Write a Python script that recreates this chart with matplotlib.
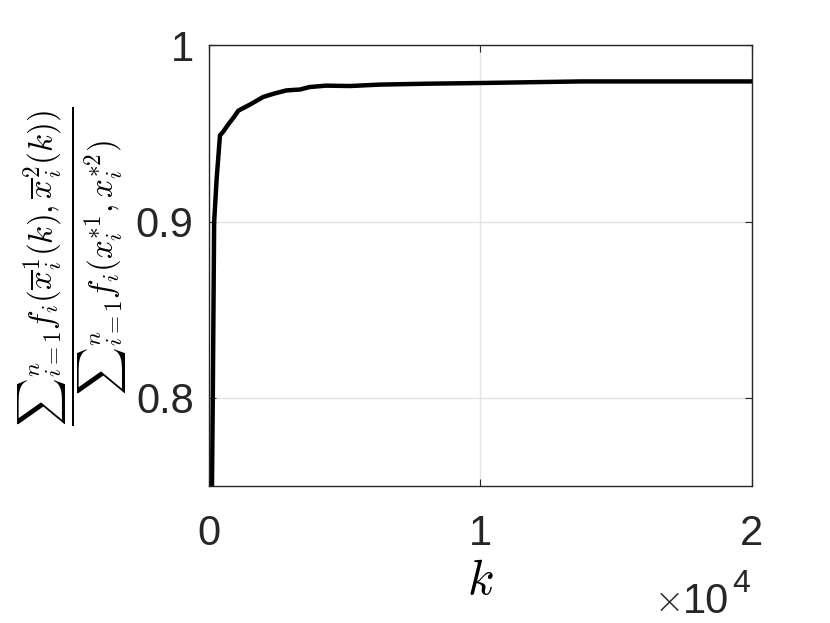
import matplotlib
matplotlib.use("Agg")
import matplotlib.pyplot as plt
import numpy as np

k_vals = [80, 110, 140, 190, 285, 405, 520, 700, 900, 1080, 1500, 2000, 2400,
          2850, 3350, 3700, 4300, 5200, 6300, 8000, 10000, 13700, 16000, 20000]
ratio_vals = [0.70, 0.75, 0.80, 0.90, 0.925, 0.949, 0.951, 0.955, 0.959, 0.963,
              0.9664, 0.9708, 0.9727, 0.9745, 0.975, 0.9764, 0.9772, 0.9770,
              0.9778, 0.9783, 0.9787, 0.9796, 0.9796, 0.9796]
x_ticks = [0, 10000, 20000]
x_tick_labels = ["0", "1", "2"]
y_ticks = [0.8, 0.9, 1.0]
y_tick_labels = ["0.8", "0.9", "1"]

plt.rcParams['mathtext.fontset'] = 'cm'
plt.rcParams['font.family'] = ['Liberation Sans', 'DejaVu Sans']

fig = plt.figure(figsize=(8.3, 6.23), dpi=100)
ax = fig.add_axes([0.2518, 0.2199, 0.6542, 0.7071])

ax.plot(k_vals, ratio_vals, color='black', lw=3.2, solid_joinstyle='round')
ax.set_xlim(0, 20000)
ax.set_ylim(0.75, 1.0)
ax.set_xticks(x_ticks)
ax.set_xticklabels(x_tick_labels)
ax.set_yticks(y_ticks)
ax.set_yticklabels(y_tick_labels)
ax.tick_params(direction='in', length=5, width=0.8, colors='#262626',
               labelsize=30, labelcolor='#262626')
ax.tick_params(axis='x', pad=20)
ax.tick_params(axis='y', pad=11)
ax.tick_params(top=True, right=True)
ax.grid(True, color='#e3e3e3', lw=1)
ax.set_axisbelow(True)
for s in ax.spines.values():
    s.set_color('#262626')
    s.set_linewidth(1.0)

ax.set_xlabel(r'$k$', fontsize=35, labelpad=4)
ax.set_ylabel(r'$\frac{{\sum}_{i=1}^n f_i(\overline{x}_i^1(k),\overline{x}_i^2(k))}{{\sum}_{i=1}^n f_i(x_i^{*1},x_i^{*2})}$',
              fontsize=34)
ax.yaxis.set_label_coords(-0.143, 0.5)

fig.text(654/830, 1 - 611/623, r'$\times$', fontsize=27, color='#262626',
         ha='left', va='baseline')
fig.text(729/830, 1 - 613/623, '10', fontsize=30, color='#262626',
         ha='right', va='baseline')
fig.text(732/830, 1 - 592/623, '4', fontsize=23, color='#262626',
         ha='left', va='baseline')

fig.savefig('out.png', dpi=100)
